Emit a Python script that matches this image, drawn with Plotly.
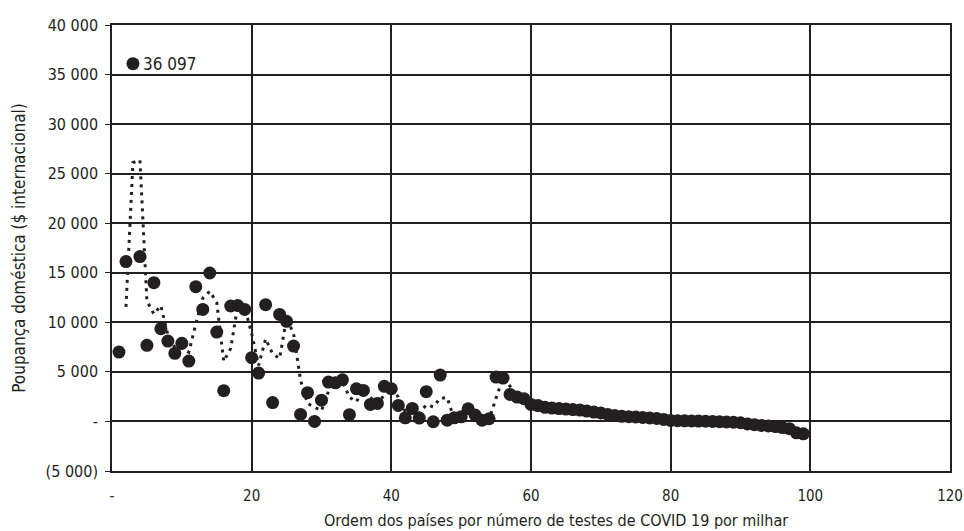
import plotly.graph_objects as go

ranks = list(range(1, 100))
savings = [
    7000, 16130, 36097, 16630, 7680, 14000, 9360, 8110, 6870, 7880,
    6090, 13600, 11300, 14980, 9020, 3100, 11650, 11700, 11300, 6430,
    4880, 11780, 1900, 10800, 10100, 7600, 710, 2900, 0, 2150,
    3970, 3900, 4200, 680, 3300, 3130, 1720, 1820, 3540, 3300,
    1620, 370, 1310, 340, 3000, -30, 4680, 130, 370, 470,
    1280, 640, 130, 270, 4480, 4380, 2730, 2460, 2290, 1720,
    1600, 1420, 1350, 1300, 1250, 1200, 1150, 1050, 950, 850,
    700, 600, 520, 480, 450, 400, 350, 300, 200, 100,
    80, 60, 50, 40, 20, 0, -20, -50, -80, -130,
    -250, -330, -400, -450, -520, -620, -730, -1150, -1250,
]

# 2-period moving average trendline
ma_x = ranks[1:]
ma_y = [(savings[i - 1] + savings[i]) / 2 for i in range(1, len(savings))]

y_tickvals = [-5000, 0, 5000, 10000, 15000, 20000, 25000, 30000, 35000, 40000]
y_ticktext = ["(5 000)", "-", "5 000", "10 000", "15 000", "20 000", "25 000", "30 000", "35 000", "40 000"]
x_tickvals = [0, 20, 40, 60, 80, 100, 120]
x_ticktext = ["-", "20", "40", "60", "80", "100", "120"]

ink = "#231f20"
FONT = "DejaVu Sans Condensed, Liberation Sans Narrow, Roboto, sans-serif"

fig = go.Figure()
fig.add_trace(go.Scatter(
    x=ranks, y=savings, mode="markers",
    marker=dict(size=13, color=ink), showlegend=False, hoverinfo="x+y",
))
fig.add_trace(go.Scatter(
    x=ma_x, y=ma_y, mode="lines",
    line=dict(color=ink, width=3, dash="3px,5px"), showlegend=False,
))

fig.add_annotation(x=3, y=36097, text="36 097", showarrow=False,
                   xanchor="left", yanchor="middle", xshift=8,
                   font=dict(family=FONT, size=17, color=ink))

fig.add_annotation(xref="paper", yref="paper", x=0.53, y=-0.11,
                   text="Ordem dos países por número de testes de COVID 19 por milhar",
                   showarrow=False, xanchor="center", yanchor="middle",
                   font=dict(family=FONT, size=16, color=ink))

fig.update_layout(
    width=964, height=531,
    margin=dict(l=112, r=14, t=25, b=60),
    plot_bgcolor="white", paper_bgcolor="white",
    font=dict(family=FONT, size=16, color=ink),
    xaxis=dict(range=[0, 120], tickvals=x_tickvals, ticktext=x_ticktext,
               showgrid=True, gridcolor=ink, gridwidth=1.5,
               showline=True, linecolor=ink, linewidth=1.5, mirror=True,
               zeroline=False, ticks="", ticklabelstandoff=10, automargin=False,
               tickfont=dict(size=15)),
    yaxis=dict(range=[-5000, 40000], tickvals=y_tickvals, ticktext=y_ticktext,
               showgrid=True, gridcolor=ink, gridwidth=1.5,
               showline=True, linecolor=ink, linewidth=1.5, mirror=True,
               zeroline=False, ticks="outside", ticklen=5, tickcolor=ink,
               ticklabelstandoff=4, automargin=False,
               title=dict(text="Poupança doméstica ($ internacional)",
                          font=dict(size=17), standoff=16)),
)

fig.write_html("out.html",
               config={"displayModeBar": False},
               post_script="document.body.style.margin='0';document.body.style.overflow='hidden';")
